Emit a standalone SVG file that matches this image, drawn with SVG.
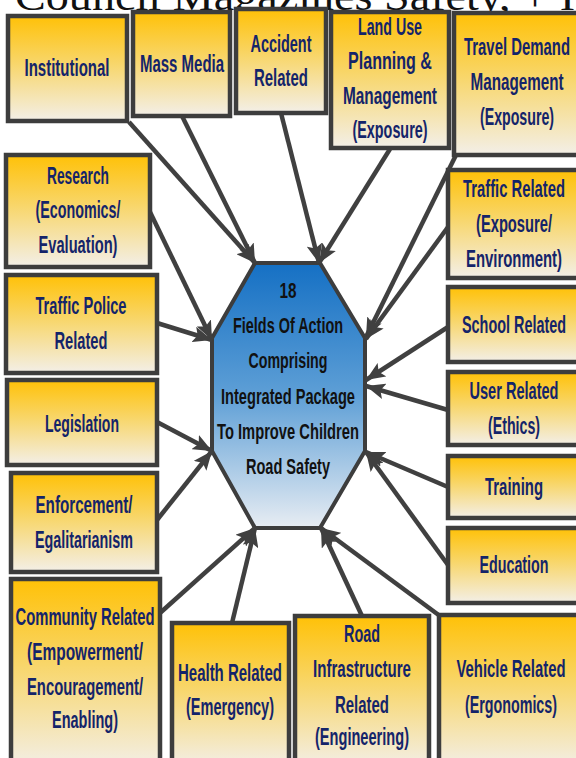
<svg xmlns="http://www.w3.org/2000/svg" width="576" height="758" viewBox="0 0 576 758">
<defs>
<linearGradient id="gBox" x1="0" y1="0" x2="0" y2="1">
<stop offset="0" stop-color="#ffc107"/>
<stop offset="0.45" stop-color="#f8d66a"/>
<stop offset="1" stop-color="#f3efe8"/>
</linearGradient>
<linearGradient id="gOct" x1="0" y1="0" x2="0" y2="1">
<stop offset="0" stop-color="#1570c4"/>
<stop offset="0.5" stop-color="#5e9fd6"/>
<stop offset="1" stop-color="#e8edf3"/>
</linearGradient>
<marker id="arr" markerUnits="userSpaceOnUse" markerWidth="20" markerHeight="16" refX="19" refY="8" orient="auto">
<path d="M0,0 L19,8 L0,16 L4,8 z" fill="#404040"/>
</marker>
</defs>
<style>
.box{fill:url(#gBox);stroke:#3d3d3d;stroke-width:4.5}
.oct{fill:url(#gOct);stroke:#3d3d3d;stroke-width:4}
.t{font-family:"Liberation Sans Narrow","Liberation Sans",Arial,sans-serif;font-weight:bold;font-size:23px;fill:#14246a;text-anchor:middle}
.ot{font-family:"Liberation Sans Narrow","Liberation Sans",Arial,sans-serif;font-weight:bold;font-size:22px;fill:#111111;text-anchor:middle}
.cap{font-family:"Liberation Serif","Times New Roman",serif;font-size:40px;fill:#111111}
.c{stroke:#404040;stroke-width:4.5;fill:none;marker-end:url(#arr)}
</style>
<rect width="576" height="758" fill="#ffffff"/>
<text class="cap" x="15" y="10" textLength="560" lengthAdjust="spacingAndGlyphs">Council Magazines Safety, + I</text>

<g id="center">
<polygon class="oct" points="255,263 320,263 365,338 365,451 320,528 255,528 212,451 212,338"/>
<text class="ot" x="288" y="298" textLength="17" lengthAdjust="spacingAndGlyphs">18</text>
<text class="ot" x="288" y="333" textLength="110" lengthAdjust="spacingAndGlyphs">Fields Of Action</text>
<text class="ot" x="288" y="368" textLength="79" lengthAdjust="spacingAndGlyphs">Comprising</text>
<text class="ot" x="288" y="404" textLength="134" lengthAdjust="spacingAndGlyphs">Integrated Package</text>
<text class="ot" x="288" y="439" textLength="142" lengthAdjust="spacingAndGlyphs">To Improve Children</text>
<text class="ot" x="288" y="474" textLength="84" lengthAdjust="spacingAndGlyphs">Road Safety</text>
</g>

<g id="connectors">
<line class="c" x1="129" y1="122" x2="255" y2="263"/>
<line class="c" x1="182" y1="116" x2="255" y2="263"/>
<line class="c" x1="281" y1="113" x2="319" y2="263"/>
<line class="c" x1="390" y1="149" x2="319" y2="263"/>
<line class="c" x1="457" y1="153" x2="366" y2="337"/>
<line class="c" x1="448" y1="227" x2="366" y2="339"/>
<line class="c" x1="448" y1="327" x2="366" y2="380"/>
<line class="c" x1="448" y1="410" x2="366" y2="386"/>
<line class="c" x1="448" y1="487" x2="366" y2="452"/>
<line class="c" x1="448" y1="565" x2="366" y2="452"/>
<line class="c" x1="440" y1="616" x2="321" y2="528"/>
<line class="c" x1="362" y1="616" x2="321" y2="528"/>
<line class="c" x1="232" y1="623" x2="255" y2="528"/>
<line class="c" x1="160" y1="613" x2="255" y2="528"/>
<line class="c" x1="157" y1="520" x2="212" y2="451"/>
<line class="c" x1="157" y1="422" x2="212" y2="451"/>
<line class="c" x1="157" y1="323" x2="212" y2="340"/>
<line class="c" x1="150" y1="212" x2="212" y2="340"/>
</g>

<g id="institutional">
<rect class="box" x="8" y="16" width="119" height="105"/>
<text class="t" x="67" y="76" textLength="85" lengthAdjust="spacingAndGlyphs">Institutional</text>
</g>
<g id="mass-media">
<rect class="box" x="133" y="12" width="97" height="104"/>
<text class="t" x="182" y="72" textLength="84" lengthAdjust="spacingAndGlyphs">Mass Media</text>
</g>
<g id="accident">
<rect class="box" x="236" y="9" width="90" height="104"/>
<text class="t" x="281" y="52" textLength="61" lengthAdjust="spacingAndGlyphs">Accident</text>
<text class="t" x="281" y="86" textLength="54" lengthAdjust="spacingAndGlyphs">Related</text>
</g>
<g id="land-use">
<rect class="box" x="331" y="12" width="118" height="136"/>
<text class="t" x="390" y="35" textLength="64" lengthAdjust="spacingAndGlyphs">Land Use</text>
<text class="t" x="390" y="69" textLength="84" lengthAdjust="spacingAndGlyphs">Planning &amp;</text>
<text class="t" x="390" y="104" textLength="94" lengthAdjust="spacingAndGlyphs">Management</text>
<text class="t" x="390" y="138" textLength="75" lengthAdjust="spacingAndGlyphs">(Exposure)</text>
</g>
<g id="travel-demand">
<rect class="box" x="454" y="13" width="130" height="142"/>
<text class="t" x="517" y="55" textLength="106" lengthAdjust="spacingAndGlyphs">Travel Demand</text>
<text class="t" x="517" y="90" textLength="93" lengthAdjust="spacingAndGlyphs">Management</text>
<text class="t" x="517" y="125" textLength="74" lengthAdjust="spacingAndGlyphs">(Exposure)</text>
</g>
<g id="research">
<rect class="box" x="6" y="155" width="144" height="112"/>
<text class="t" x="78" y="184" textLength="62" lengthAdjust="spacingAndGlyphs">Research</text>
<text class="t" x="78" y="218" textLength="85" lengthAdjust="spacingAndGlyphs">(Economics/</text>
<text class="t" x="78" y="253" textLength="79" lengthAdjust="spacingAndGlyphs">Evaluation)</text>
</g>
<g id="traffic-police">
<rect class="box" x="6" y="275" width="151" height="98"/>
<text class="t" x="81" y="314" textLength="91" lengthAdjust="spacingAndGlyphs">Traffic Police</text>
<text class="t" x="81" y="349" textLength="53" lengthAdjust="spacingAndGlyphs">Related</text>
</g>
<g id="legislation">
<rect class="box" x="7" y="380" width="150" height="85"/>
<text class="t" x="82" y="432" textLength="74" lengthAdjust="spacingAndGlyphs">Legislation</text>
</g>
<g id="enforcement">
<rect class="box" x="11" y="473" width="146" height="99"/>
<text class="t" x="84" y="513" textLength="97" lengthAdjust="spacingAndGlyphs">Enforcement/</text>
<text class="t" x="84" y="548" textLength="98" lengthAdjust="spacingAndGlyphs">Egalitarianism</text>
</g>
<g id="community">
<rect class="box" x="11" y="579" width="149" height="190"/>
<text class="t" x="85" y="625" textLength="139" lengthAdjust="spacingAndGlyphs">Community Related</text>
<text class="t" x="85" y="660" textLength="116" lengthAdjust="spacingAndGlyphs">(Empowerment/</text>
<text class="t" x="85" y="695" textLength="116" lengthAdjust="spacingAndGlyphs">Encouragement/</text>
<text class="t" x="85" y="728" textLength="66" lengthAdjust="spacingAndGlyphs">Enabling)</text>
</g>
<g id="health">
<rect class="box" x="172" y="623" width="117" height="145"/>
<text class="t" x="230" y="681" textLength="104" lengthAdjust="spacingAndGlyphs">Health Related</text>
<text class="t" x="230" y="715" textLength="88" lengthAdjust="spacingAndGlyphs">(Emergency)</text>
</g>
<g id="road-infrastructure">
<rect class="box" x="295" y="616" width="134" height="152"/>
<text class="t" x="362" y="642" textLength="36" lengthAdjust="spacingAndGlyphs">Road</text>
<text class="t" x="362" y="677" textLength="98" lengthAdjust="spacingAndGlyphs">Infrastructure</text>
<text class="t" x="362" y="713" textLength="54" lengthAdjust="spacingAndGlyphs">Related</text>
<text class="t" x="362" y="745" textLength="94" lengthAdjust="spacingAndGlyphs">(Engineering)</text>
</g>
<g id="vehicle">
<rect class="box" x="439" y="615" width="145" height="153"/>
<text class="t" x="511" y="677" textLength="109" lengthAdjust="spacingAndGlyphs">Vehicle Related</text>
<text class="t" x="511" y="713" textLength="92" lengthAdjust="spacingAndGlyphs">(Ergonomics)</text>
</g>
<g id="traffic-related">
<rect class="box" x="448" y="170" width="135" height="108"/>
<text class="t" x="514" y="197" textLength="102" lengthAdjust="spacingAndGlyphs">Traffic Related</text>
<text class="t" x="514" y="232" textLength="76" lengthAdjust="spacingAndGlyphs">(Exposure/</text>
<text class="t" x="514" y="267" textLength="96" lengthAdjust="spacingAndGlyphs">Environment)</text>
</g>
<g id="school">
<rect class="box" x="448" y="287" width="135" height="75"/>
<text class="t" x="514" y="333" textLength="104" lengthAdjust="spacingAndGlyphs">School Related</text>
</g>
<g id="user">
<rect class="box" x="448" y="372" width="135" height="73"/>
<text class="t" x="514" y="399" textLength="89" lengthAdjust="spacingAndGlyphs">User Related</text>
<text class="t" x="514" y="434" textLength="52" lengthAdjust="spacingAndGlyphs">(Ethics)</text>
</g>
<g id="training">
<rect class="box" x="448" y="456" width="135" height="62"/>
<text class="t" x="514" y="495" textLength="58" lengthAdjust="spacingAndGlyphs">Training</text>
</g>
<g id="education">
<rect class="box" x="448" y="528" width="135" height="75"/>
<text class="t" x="514" y="573" textLength="69" lengthAdjust="spacingAndGlyphs">Education</text>
</g>
</svg>
